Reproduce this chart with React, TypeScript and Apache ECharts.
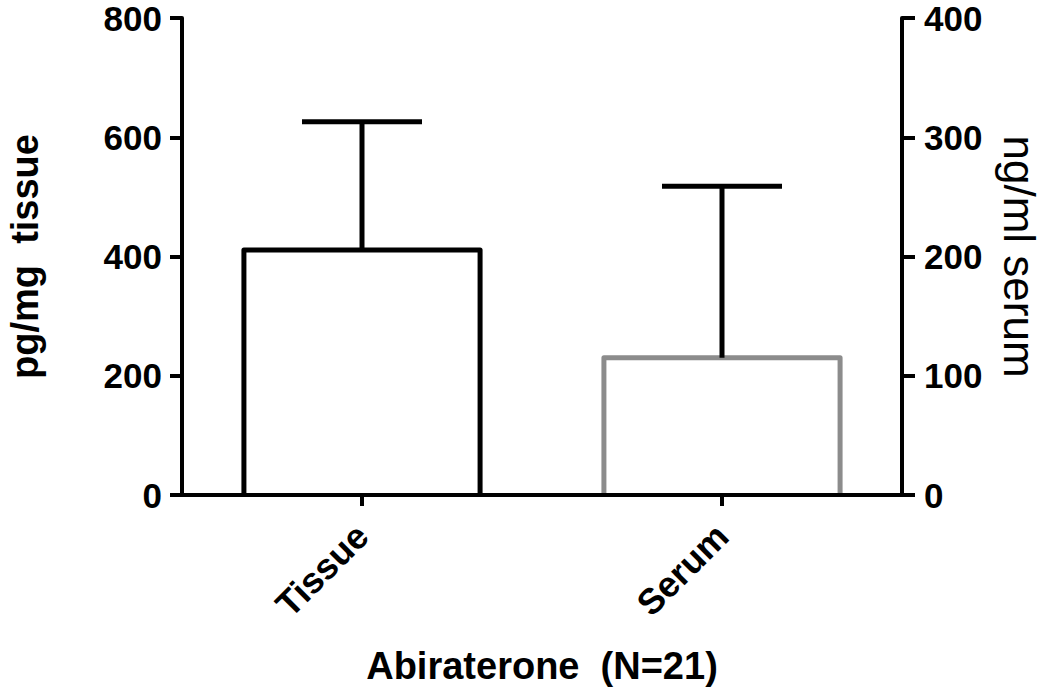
import React, { useEffect, useRef } from "react";
import * as echarts from "echarts";

const categories = ["Tissue", "Serum"];
const tissueMean = 411;
const tissueUpper = 626;
const serumMean = 115;
const serumUpper = 259;
const leftTicks = { min: 0, max: 800, interval: 200 };
const rightTicks = { min: 0, max: 400, interval: 100 };

const FONT = "'Liberation Sans', Arial, Helvetica, sans-serif";

function makeRenderer(barColor: string) {
  return function (params: any, api: any) {
    const idx = api.value(0);
    const zero = api.coord([idx, 0]);
    const base = api.coord([idx, api.value(1)]);
    const top = api.coord([idx, api.value(2)]);
    const band = api.size([1, 0])[0];
    const halfBar = band * 0.328;
    const halfCap = band / 6;
    const err = { stroke: "#000", lineWidth: 5, fill: "none" };
    return {
      type: "group",
      children: [
        {
          type: "rect",
          shape: { x: zero[0] - halfBar, y: base[1], width: halfBar * 2, height: zero[1] - base[1] },
          style: { fill: "#fff", stroke: "none" },
        },
        {
          type: "polyline",
          shape: {
            points: [
              [zero[0] - halfBar, zero[1]],
              [zero[0] - halfBar, base[1]],
              [zero[0] + halfBar, base[1]],
              [zero[0] + halfBar, zero[1]],
            ],
          },
          style: { stroke: barColor, lineWidth: 5, fill: "none", lineJoin: "round" },
        },
        { type: "line", shape: { x1: base[0], y1: base[1], x2: top[0], y2: top[1] }, style: err },
        { type: "line", shape: { x1: top[0] - halfCap, y1: top[1], x2: top[0] + halfCap, y2: top[1] }, style: err },
      ],
    };
  };
}

export default function App() {
  const ref = useRef<HTMLDivElement>(null);
  useEffect(() => {
    const chart = echarts.init(ref.current!, null, { renderer: "svg" });
    const axisLine = { show: true, lineStyle: { color: "#000", width: 4 } };
    chart.setOption({
      animation: false,
      backgroundColor: "#fff",
      textStyle: { fontFamily: FONT },
      grid: { left: 182, right: 148, top: 18, bottom: 192, containLabel: false, outerBoundsMode: "none" },
      xAxis: {
        type: "category",
        data: categories,
        z: 5,
        axisLine,
        axisTick: { show: true, alignWithLabel: true, length: 11, lineStyle: { color: "#000", width: 4 } },
        axisLabel: { rotate: 45, margin: 35, color: "#000", fontSize: 36, fontWeight: "bold", fontFamily: FONT },
        name: "Abiraterone  (N=21)",
        nameLocation: "middle",
        nameGap: 152,
        nameTextStyle: { color: "#000", fontSize: 38, fontWeight: "bold", fontFamily: FONT },
      },
      yAxis: [
        {
          type: "value",
          position: "left",
          ...leftTicks,
          axisLine,
          axisTick: { show: true, length: 12, lineStyle: { color: "#000", width: 4 } },
          splitLine: { show: false },
          axisLabel: { margin: 20, color: "#000", fontSize: 35, lineHeight: 26, fontWeight: "bold", fontFamily: FONT },
          name: "pg/mg  tissue",
          nameLocation: "middle",
          nameGap: 141,
          nameRotate: 90,
          nameTextStyle: { color: "#000", fontSize: 38, lineHeight: 32, fontWeight: "bold", fontFamily: FONT },
        },
        {
          type: "value",
          position: "right",
          ...rightTicks,
          axisLine,
          axisTick: { show: true, length: 13, lineStyle: { color: "#000", width: 4 } },
          splitLine: { show: false },
          axisLabel: { margin: 22, color: "#000", fontSize: 35, lineHeight: 26, fontWeight: "bold", fontFamily: FONT },
          name: "ng/ml serum",
          nameLocation: "middle",
          nameGap: 98,
          nameRotate: -90,
          nameTextStyle: { color: "#000", fontSize: 44, lineHeight: 38, fontWeight: "normal", fontFamily: FONT },
        },
      ],
      series: [
        {
          type: "custom",
          name: "Tissue",
          yAxisIndex: 0,
          renderItem: makeRenderer("#000"),
          encode: { x: 0, y: [1, 2] },
          data: [[0, tissueMean, tissueUpper]],
          z: 2,
        },
        {
          type: "custom",
          name: "Serum",
          yAxisIndex: 1,
          renderItem: makeRenderer("#8c8c8c"),
          encode: { x: 0, y: [1, 2] },
          data: [[1, serumMean, serumUpper]],
          z: 2,
        },
      ],
    });
    return () => chart.dispose();
  }, []);
  return <div ref={ref} style={{ width: 1050, height: 687, position: "absolute", left: 0, top: 0 }} />;
}
